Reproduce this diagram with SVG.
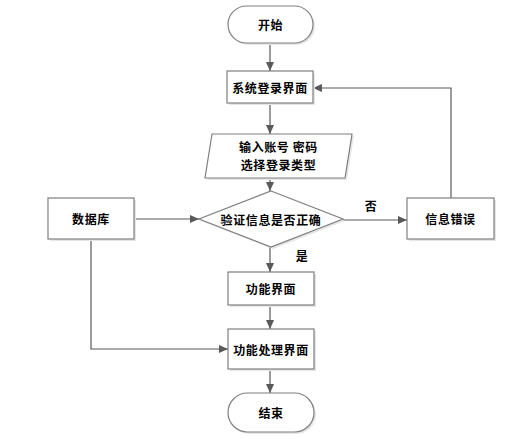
<svg xmlns="http://www.w3.org/2000/svg" width="505" height="439" viewBox="0 0 505 439">
<defs>
<marker id="arr" markerWidth="10" markerHeight="10" refX="9" refY="5" orient="auto" markerUnits="userSpaceOnUse">
<path d="M0,1 L9,5 L0,9 Z" fill="#595959"/>
</marker>
</defs>
<style>
.s{fill:#ffffff;stroke:#7f7f7f;stroke-width:1.2}
.sh{fill:#e6e6e6;stroke:none}
.t{font-family:"Noto Sans CJK SC","Noto Sans CJK JP",sans-serif;font-size:12px;font-weight:bold;fill:#000;text-anchor:middle;dominant-baseline:central;letter-spacing:0.6px}
.c{fill:none;stroke:#595959;stroke-width:1.2}
</style>
<rect width="505" height="439" fill="#ffffff"/>
<g id="connectors">
<line class="c" x1="270" y1="43" x2="270" y2="71" marker-end="url(#arr)"/>
<line class="c" x1="270" y1="104" x2="270" y2="134" marker-end="url(#arr)"/>
<line class="c" x1="270" y1="178" x2="270" y2="191" marker-end="url(#arr)"/>
<line class="c" x1="134" y1="219" x2="199" y2="219" marker-end="url(#arr)"/>
<line class="c" x1="343" y1="220" x2="407" y2="220" marker-end="url(#arr)"/>
<polyline class="c" points="451,198 451,88 313,88" marker-end="url(#arr)"/>
<line class="c" x1="270" y1="247" x2="270" y2="272" marker-end="url(#arr)"/>
<line class="c" x1="270" y1="305" x2="270" y2="329" marker-end="url(#arr)"/>
<polyline class="c" points="91,239 91,349 228,349" marker-end="url(#arr)"/>
<line class="c" x1="270" y1="369" x2="270" y2="393" marker-end="url(#arr)"/>
<text class="t" x="371" y="205">否</text>
<text class="t" x="302" y="255">是</text>
</g>
<g id="start">
<rect class="sh" x="230" y="8" width="85" height="37" rx="18.5"/>
<rect class="s" x="228" y="6" width="85" height="37" rx="18.5"/>
<text class="t" x="270.5" y="24.5">开始</text>
</g>
<g id="login">
<rect class="sh" x="229" y="73" width="86" height="32"/>
<rect class="s" x="227" y="71" width="86" height="32"/>
<text class="t" x="270" y="87">系统登录界面</text>
</g>
<g id="input">
<polygon class="sh" points="214,136 354,136 347,180 207,180"/>
<polygon class="s" points="212,134 352,134 345,178 205,178"/>
<text class="t" x="278.5" y="146">输入账号 密码</text>
<text class="t" x="278.5" y="164">选择登录类型</text>
</g>
<g id="verify">
<polygon class="sh" points="273,193 345,221 273,249 201,221"/>
<polygon class="s" points="271,191 343,219 271,247 199,219"/>
<text class="t" x="271" y="219">验证信息是否正确</text>
</g>
<g id="database">
<rect class="sh" x="50" y="200" width="86" height="41"/>
<rect class="s" x="48" y="198" width="86" height="41"/>
<text class="t" x="91" y="218.5">数据库</text>
</g>
<g id="error">
<rect class="sh" x="409" y="200" width="87" height="41"/>
<rect class="s" x="407" y="198" width="87" height="41"/>
<text class="t" x="450.5" y="218.5">信息错误</text>
</g>
<g id="func">
<rect class="sh" x="230" y="274" width="86" height="33"/>
<rect class="s" x="228" y="272" width="86" height="33"/>
<text class="t" x="271" y="288.5">功能界面</text>
</g>
<g id="process">
<rect class="sh" x="230" y="331" width="86" height="40"/>
<rect class="s" x="228" y="329" width="86" height="40"/>
<text class="t" x="271" y="349">功能处理界面</text>
</g>
<g id="end">
<rect class="sh" x="230" y="395" width="86" height="39" rx="19.5"/>
<rect class="s" x="228" y="393" width="86" height="39" rx="19.5"/>
<text class="t" x="271" y="412.5">结束</text>
</g>
</svg>
